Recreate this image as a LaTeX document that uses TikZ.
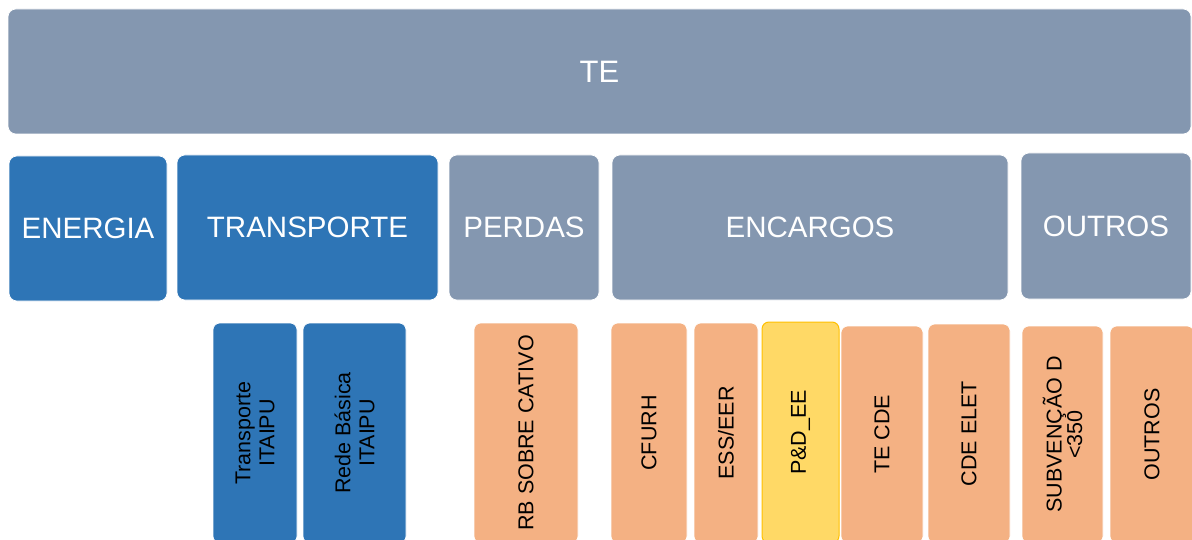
\documentclass[tikz,border=0pt]{standalone}
\usepackage{fontspec}
\setmainfont{Liberation Sans}
\usetikzlibrary{positioning}

\definecolor{slate}{HTML}{8497B0}
\definecolor{tblue}{HTML}{2E75B6}
\definecolor{peach}{HTML}{F4B183}
\definecolor{sand}{HTML}{FFD966}
\definecolor{gold}{HTML}{FFC000}

\begin{document}
\begin{tikzpicture}
 [
    x=1pt, y=-1pt,
% Box styles
    box/.style={rectangle,rounded corners=8pt,draw=white,line width=0.6pt,
        inner sep=0pt,outer sep=0pt,text=white,
        font=\fontsize{29.5}{35}\selectfont},
    grey/.style={box,fill=slate},
    blue/.style={box,fill=tblue},
% Rotated item style
    item/.style={rectangle,rounded corners=7pt,draw=white,line width=0.6pt,
        fill=peach,inner sep=0pt,outer sep=0pt,rotate=90,align=center,
        text=black,font=\fontsize{21.5}{24}\selectfont},
    bitem/.style={item,fill=tblue},
    pick/.style={item,fill=sand,draw=gold,line width=1pt}
    ]
\useasboundingbox (0,0) rectangle (1192,540);
\clip (0,0) rectangle (1192,540);
%% Top row
 \node (te) [grey,minimum width=1183pt,minimum height=125pt,
            font=\fontsize{31}{37}\selectfont] at (599.5,71.5) {TE};
%% Groups
 \node (energia)    [blue,minimum width=158pt,minimum height=145pt] at (88,228.5) {ENERGIA};
 \node (transporte) [blue,minimum width=261pt,minimum height=145pt] at (307.5,227.5) {TRANSPORTE};
 \node (perdas)     [grey,minimum width=150pt,minimum height=145pt] at (524,227.5) {PERDAS};
 \node (encargos)   [grey,minimum width=396pt,minimum height=145pt] at (810,227.5) {ENCARGOS};
 \node (outros)     [grey,minimum width=170pt,minimum height=146pt] at (1106,226) {OUTROS};
%% Items (rotated, so width is the height)
 \node (tritaipu) [bitem,minimum width=220pt,minimum height=84pt]  at (255,433)    {Transporte\\ITAIPU};
 \node (rbitaipu) [bitem,minimum width=220pt,minimum height=103pt] at (354.5,433)  {Rede Básica\\ITAIPU};
 \node (rbcativo) [item,minimum width=220pt,minimum height=104pt]  at (526,433)    {RB SOBRE CATIVO};
 \node (cfurh)    [item,minimum width=220pt,minimum height=76pt]   at (649,433)    {CFURH};
 \node (esseer)   [item,minimum width=220pt,minimum height=64pt]   at (726,433)    {ESS/EER};
 \node (pdee)     [pick,minimum width=221pt,minimum height=77pt]   at (800.5,432.5) {P\&D\_EE};
 \node (tecde)    [item,minimum width=217pt,minimum height=82pt]   at (882,434.5)  {TE CDE};
 \node (cdeelet)  [item,minimum width=219pt,minimum height=82pt]   at (969,433.5)  {CDE ELET};
 \node (subv)     [item,minimum width=217pt,minimum height=81pt,
                   font=\fontsize{21.5}{19}\selectfont]            at (1062.5,434.5) {SUBVENÇÃO D\\<350};
 \node (outros2)  [item,minimum width=217pt,minimum height=84pt]   at (1152,434.5) {OUTROS};
\end{tikzpicture}
\end{document}
